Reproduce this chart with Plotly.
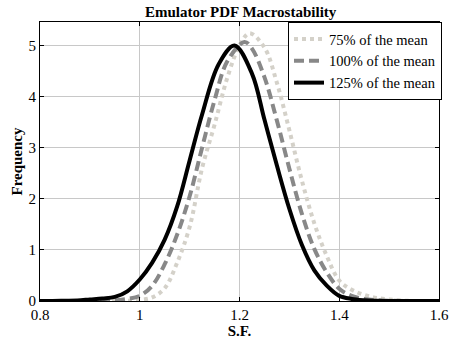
import plotly.graph_objects as go

# S.F. sample points
x_75 = [0.8, 0.85, 0.9, 0.95, 0.975, 1.0, 1.025, 1.05, 1.075, 1.1, 1.125, 1.15, 1.175, 1.2, 1.22,
        1.25, 1.275, 1.3, 1.325, 1.35, 1.375, 1.4, 1.425, 1.45, 1.475, 1.5, 1.525, 1.55, 1.6]
y_75 = [0.0, 0.0, 0.0, 0.0, 0.005, 0.02, 0.07, 0.25, 0.75, 1.45, 2.6, 3.45, 4.35, 5.0, 5.24,
        4.96, 4.27, 3.34, 2.36, 1.52, 0.88, 0.4, 0.22, 0.12, 0.06, 0.03, 0.01, 0.0, 0.0]

x_100 = [0.8, 0.85, 0.9, 0.925, 0.95, 0.975, 1.0, 1.025, 1.05, 1.075, 1.1, 1.125, 1.15, 1.175, 1.21,
         1.225, 1.25, 1.275, 1.3, 1.325, 1.35, 1.375, 1.4, 1.425, 1.45, 1.475, 1.5, 1.55, 1.6]
y_100 = [0.0, 0.0, 0.0, 0.005, 0.015, 0.04, 0.1, 0.3, 0.72, 1.3, 2.05, 3.0, 3.93, 4.68, 5.07,
         4.94, 4.38, 3.53, 2.59, 1.71, 1.02, 0.56, 0.24, 0.1, 0.04, 0.015, 0.005, 0.0, 0.0]

x_125 = [0.8, 0.825, 0.85, 0.875, 0.9, 0.925, 0.95, 0.975, 1.0, 1.025, 1.05, 1.075, 1.1, 1.125,
         1.158, 1.19, 1.225, 1.25, 1.275, 1.3, 1.325, 1.35, 1.375, 1.4, 1.425, 1.45, 1.475, 1.5, 1.55, 1.6]
y_125 = [0.0, 0.0, 0.005, 0.01, 0.03, 0.05, 0.08, 0.19, 0.42, 0.75, 1.2, 1.85, 2.75, 3.65,
         4.63, 5.0, 4.45, 3.55, 2.65, 1.8, 1.1, 0.6, 0.3, 0.1, 0.04, 0.015, 0.005, 0.0, 0.0, 0.0]

names = ["75% of the mean", "100% of the mean", "125% of the mean"]
x_ticks = [0.8, 1.0, 1.2, 1.4, 1.6]
x_tick_text = ["0.8", "1", "1.2", "1.4", "1.6"]
y_ticks = [0, 1, 2, 3, 4, 5]

font = "Times New Roman, Liberation Serif, serif"

fig = go.Figure()
fig.add_trace(go.Scatter(x=x_75, y=y_75, mode="lines", name=names[0], line_shape="spline",
                         line=dict(color="#d4d1c9", width=4, dash="dot")))
fig.add_trace(go.Scatter(x=x_100, y=y_100, mode="lines", name=names[1], line_shape="spline",
                         line=dict(color="#888888", width=4, dash="10px,5px")))
fig.add_trace(go.Scatter(x=x_125, y=y_125, mode="lines", name=names[2], line_shape="spline",
                         line=dict(color="#000000", width=4)))

fig.update_layout(
    width=454, height=339,
    margin=dict(l=40, r=13, t=22, b=38),
    paper_bgcolor="white", plot_bgcolor="white",
    font=dict(family=font, size=15, color="black"),
    title=dict(text="<b>Emulator PDF Macrostability</b>", x=0.53, xanchor="center",
               y=0.965, yanchor="middle", font=dict(family=font, size=15)),
    showlegend=True,
    legend=dict(x=1.0075, xanchor="right", y=1.0, yanchor="top", bgcolor="white",
                bordercolor="black", borderwidth=1, font=dict(family=font, size=14.5),
                itemwidth=30, tracegroupgap=0),
)
fig.update_xaxes(range=[0.8, 1.6], tickvals=x_ticks, ticktext=x_tick_text, automargin=False,
                 showgrid=True, gridcolor="#c8c8c8", gridwidth=1,
                 showline=True, linecolor="black", linewidth=1, mirror="ticks",
                 ticks="inside", ticklen=4, tickcolor="black", zeroline=False,
                 tickfont=dict(family=font, size=15),
                 title=dict(text="<b>S.F.</b>", standoff=0, font=dict(family=font, size=15)))
fig.update_yaxes(range=[0, 5.46], tickvals=y_ticks, automargin=False,
                 showgrid=True, gridcolor="#c8c8c8", gridwidth=1,
                 showline=True, linecolor="black", linewidth=1, mirror="ticks",
                 ticks="inside", ticklen=4, tickcolor="black", zeroline=False,
                 tickfont=dict(family=font, size=15),
                 title=dict(text="<b>Frequency</b>", standoff=2, font=dict(family=font, size=15)))

fig.write_html("out.html")
